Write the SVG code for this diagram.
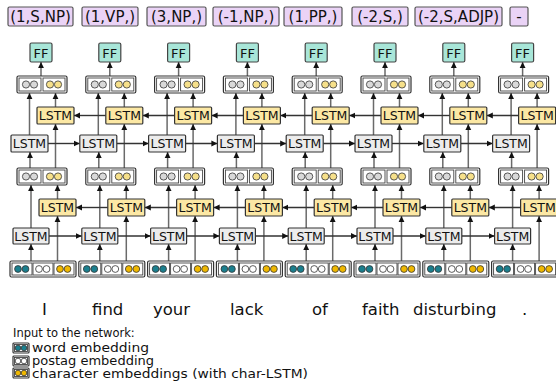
<svg xmlns="http://www.w3.org/2000/svg" xmlns:xlink="http://www.w3.org/1999/xlink" width="556" height="383" viewBox="0 0 556 383">
<style>
text{font-family:"DejaVu Sans","Liberation Sans",sans-serif;fill:#111}
.lab{fill:#ead3f6;stroke:#555;stroke-width:1.2}
.tlab{font-size:15px;text-anchor:middle}
.ff{fill:#a8e6d8;stroke:#444;stroke-width:1.2}
.tff{font-size:13px;text-anchor:middle}
.ly{fill:#fce8a4;stroke:#333;stroke-width:1.2}
.lg{fill:#ececec;stroke:#333;stroke-width:1.2}
.tl{font-size:12.5px;text-anchor:middle}
.v{stroke:#6a6a6a;stroke-width:1.5;fill:none;marker-end:url(#ah)}
.h{stroke:#333;stroke-width:1.4;fill:none;marker-end:url(#ah)}
.ob{fill:#fff;stroke:#333;stroke-width:1.2}
.sb{fill:none;stroke:#444;stroke-width:0.9}
.c{stroke:#333;stroke-width:0.8}
.word{font-size:16.5px}
.leg{font-size:11.5px}
</style>
<defs>
<marker id="ah" markerUnits="userSpaceOnUse" markerWidth="7" markerHeight="7" refX="6" refY="3.5" orient="auto">
<path d="M0,0.6 L6,3.5 L0,6.4 z" fill="#111"/>
</marker>
<g id="inp">
<rect class="ob" x="0" y="0" width="66" height="16" rx="1.5"/>
<rect class="sb" x="2" y="2" width="20" height="12"/>
<rect class="sb" x="23" y="2" width="20" height="12"/>
<rect class="sb" x="44" y="2" width="20" height="12"/>
<circle class="c" cx="8" cy="8" r="3.4" fill="#1a7f8e"/>
<circle class="c" cx="15.5" cy="8" r="3.4" fill="#1a7f8e"/>
<circle class="c" cx="29" cy="8" r="3.4" fill="#fff"/>
<circle class="c" cx="36.5" cy="8" r="3.4" fill="#fff"/>
<circle class="c" cx="50" cy="8" r="3.4" fill="#f0b800"/>
<circle class="c" cx="57.5" cy="8" r="3.4" fill="#f0b800"/>
</g>
<g id="cat">
<rect class="ob" x="0" y="0" width="50" height="17" rx="1.5"/>
<rect class="sb" x="2" y="2" width="22" height="13"/>
<rect class="sb" x="26" y="2" width="22" height="13"/>
<circle class="c" cx="9" cy="8.5" r="3.6" fill="#d9d9d9"/>
<circle class="c" cx="17" cy="8.5" r="3.6" fill="#d9d9d9"/>
<circle class="c" cx="33" cy="8.5" r="3.6" fill="#f6e08a"/>
<circle class="c" cx="41" cy="8.5" r="3.6" fill="#f6e08a"/>
</g>
<g id="vcon">
<line class="v" x1="41" y1="76" x2="41" y2="62"/>
<line class="v" x1="29.5" y1="135" x2="29.5" y2="93"/>
<line class="v" x1="55.5" y1="107" x2="55.5" y2="93"/>
<line class="v" x1="30" y1="168" x2="30" y2="152"/>
<line class="v" x1="55.5" y1="168" x2="55.5" y2="124"/>
<line class="v" x1="31" y1="228" x2="31" y2="185"/>
<line class="v" x1="57.5" y1="199" x2="57.5" y2="185"/>
<line class="v" x1="31" y1="261" x2="31" y2="244"/>
<line class="v" x1="57.5" y1="261" x2="57.5" y2="216"/>
</g>
<g id="hcon">
<line class="h" x1="105.8" y1="115.5" x2="74" y2="115.5"/>
<line class="h" x1="48" y1="143.5" x2="79.8" y2="143.5"/>
<line class="h" x1="107.8" y1="207.5" x2="76" y2="207.5"/>
<line class="h" x1="49" y1="236" x2="81.8" y2="236"/>
</g>
<g id="legi">
<rect class="ob" x="0" y="0" width="16" height="10" rx="1"/>
<rect class="sb" x="1.5" y="1.5" width="13" height="7"/>
</g>
</defs>

<g id="connectors">
<use href="#vcon" x="0"/>
<use href="#vcon" x="68.8"/>
<use href="#vcon" x="137.6"/>
<use href="#vcon" x="206.4"/>
<use href="#vcon" x="275.2"/>
<use href="#vcon" x="344"/>
<use href="#vcon" x="412.8"/>
<use href="#vcon" x="481.6"/>
<use href="#hcon" x="0"/>
<use href="#hcon" x="68.8"/>
<use href="#hcon" x="137.6"/>
<use href="#hcon" x="206.4"/>
<use href="#hcon" x="275.2"/>
<use href="#hcon" x="344"/>
<use href="#hcon" x="412.8"/>
</g>

<g id="labels">
<g id="lab1"><rect class="lab" x="8" y="7" width="65" height="19" rx="1.5"/><text class="tlab" x="40.5" y="21.5">(1,S,NP)</text></g>
<g id="lab2"><rect class="lab" x="82" y="7" width="56" height="19" rx="1.5"/><text class="tlab" x="110" y="21.5">(1,VP,)</text></g>
<g id="lab3"><rect class="lab" x="147" y="7" width="59" height="19" rx="1.5"/><text class="tlab" x="176.5" y="21.5">(3,NP,)</text></g>
<g id="lab4"><rect class="lab" x="213" y="7" width="66" height="19" rx="1.5"/><text class="tlab" x="246" y="21.5">(-1,NP,)</text></g>
<g id="lab5"><rect class="lab" x="284" y="7" width="58" height="19" rx="1.5"/><text class="tlab" x="313" y="21.5">(1,PP,)</text></g>
<g id="lab6"><rect class="lab" x="352" y="7" width="56" height="19" rx="1.5"/><text class="tlab" x="380" y="21.5">(-2,S,)</text></g>
<g id="lab7"><rect class="lab" x="415" y="7" width="87" height="19" rx="1.5"/><text class="tlab" x="458.5" y="21.5">(-2,S,ADJP)</text></g>
<g id="lab8"><rect class="lab" x="510" y="7" width="18" height="19" rx="1.5"/><text class="tlab" x="519" y="21.5">-</text></g>
</g>

<g id="col1" transform="translate(0,0)">
<g id="ff1"><rect class="ff" x="30" y="43" width="22" height="19" rx="1.5"/><text class="tff" x="41" y="57.5">FF</text></g>
<g id="topcat1"><use href="#cat" x="17" y="76"/></g>
<g id="bwd2-1"><rect class="ly" x="37" y="107" width="37" height="17" rx="1"/><text class="tl" x="55.5" y="120">LSTM</text></g>
<g id="fwd2-1"><rect class="lg" x="11" y="135" width="37" height="17" rx="1"/><text class="tl" x="29.5" y="148">LSTM</text></g>
<g id="midcat1"><use href="#cat" x="17" y="168"/></g>
<g id="bwd1-1"><rect class="ly" x="39" y="199" width="37" height="17" rx="1"/><text class="tl" x="57.5" y="212">LSTM</text></g>
<g id="fwd1-1"><rect class="lg" x="13" y="228" width="36" height="16" rx="1"/><text class="tl" x="31" y="240.5">LSTM</text></g>
<g id="in1"><use href="#inp" x="10" y="261"/></g>
</g>
<g id="col2" transform="translate(68.8,0)">
<g id="ff2"><rect class="ff" x="30" y="43" width="22" height="19" rx="1.5"/><text class="tff" x="41" y="57.5">FF</text></g>
<g id="topcat2"><use href="#cat" x="17" y="76"/></g>
<g id="bwd2-2"><rect class="ly" x="37" y="107" width="37" height="17" rx="1"/><text class="tl" x="55.5" y="120">LSTM</text></g>
<g id="fwd2-2"><rect class="lg" x="11" y="135" width="37" height="17" rx="1"/><text class="tl" x="29.5" y="148">LSTM</text></g>
<g id="midcat2"><use href="#cat" x="17" y="168"/></g>
<g id="bwd1-2"><rect class="ly" x="39" y="199" width="37" height="17" rx="1"/><text class="tl" x="57.5" y="212">LSTM</text></g>
<g id="fwd1-2"><rect class="lg" x="13" y="228" width="36" height="16" rx="1"/><text class="tl" x="31" y="240.5">LSTM</text></g>
<g id="in2"><use href="#inp" x="10" y="261"/></g>
</g>
<g id="col3" transform="translate(137.6,0)">
<g id="ff3"><rect class="ff" x="30" y="43" width="22" height="19" rx="1.5"/><text class="tff" x="41" y="57.5">FF</text></g>
<g id="topcat3"><use href="#cat" x="17" y="76"/></g>
<g id="bwd2-3"><rect class="ly" x="37" y="107" width="37" height="17" rx="1"/><text class="tl" x="55.5" y="120">LSTM</text></g>
<g id="fwd2-3"><rect class="lg" x="11" y="135" width="37" height="17" rx="1"/><text class="tl" x="29.5" y="148">LSTM</text></g>
<g id="midcat3"><use href="#cat" x="17" y="168"/></g>
<g id="bwd1-3"><rect class="ly" x="39" y="199" width="37" height="17" rx="1"/><text class="tl" x="57.5" y="212">LSTM</text></g>
<g id="fwd1-3"><rect class="lg" x="13" y="228" width="36" height="16" rx="1"/><text class="tl" x="31" y="240.5">LSTM</text></g>
<g id="in3"><use href="#inp" x="10" y="261"/></g>
</g>
<g id="col4" transform="translate(206.4,0)">
<g id="ff4"><rect class="ff" x="30" y="43" width="22" height="19" rx="1.5"/><text class="tff" x="41" y="57.5">FF</text></g>
<g id="topcat4"><use href="#cat" x="17" y="76"/></g>
<g id="bwd2-4"><rect class="ly" x="37" y="107" width="37" height="17" rx="1"/><text class="tl" x="55.5" y="120">LSTM</text></g>
<g id="fwd2-4"><rect class="lg" x="11" y="135" width="37" height="17" rx="1"/><text class="tl" x="29.5" y="148">LSTM</text></g>
<g id="midcat4"><use href="#cat" x="17" y="168"/></g>
<g id="bwd1-4"><rect class="ly" x="39" y="199" width="37" height="17" rx="1"/><text class="tl" x="57.5" y="212">LSTM</text></g>
<g id="fwd1-4"><rect class="lg" x="13" y="228" width="36" height="16" rx="1"/><text class="tl" x="31" y="240.5">LSTM</text></g>
<g id="in4"><use href="#inp" x="10" y="261"/></g>
</g>
<g id="col5" transform="translate(275.2,0)">
<g id="ff5"><rect class="ff" x="30" y="43" width="22" height="19" rx="1.5"/><text class="tff" x="41" y="57.5">FF</text></g>
<g id="topcat5"><use href="#cat" x="17" y="76"/></g>
<g id="bwd2-5"><rect class="ly" x="37" y="107" width="37" height="17" rx="1"/><text class="tl" x="55.5" y="120">LSTM</text></g>
<g id="fwd2-5"><rect class="lg" x="11" y="135" width="37" height="17" rx="1"/><text class="tl" x="29.5" y="148">LSTM</text></g>
<g id="midcat5"><use href="#cat" x="17" y="168"/></g>
<g id="bwd1-5"><rect class="ly" x="39" y="199" width="37" height="17" rx="1"/><text class="tl" x="57.5" y="212">LSTM</text></g>
<g id="fwd1-5"><rect class="lg" x="13" y="228" width="36" height="16" rx="1"/><text class="tl" x="31" y="240.5">LSTM</text></g>
<g id="in5"><use href="#inp" x="10" y="261"/></g>
</g>
<g id="col6" transform="translate(344,0)">
<g id="ff6"><rect class="ff" x="30" y="43" width="22" height="19" rx="1.5"/><text class="tff" x="41" y="57.5">FF</text></g>
<g id="topcat6"><use href="#cat" x="17" y="76"/></g>
<g id="bwd2-6"><rect class="ly" x="37" y="107" width="37" height="17" rx="1"/><text class="tl" x="55.5" y="120">LSTM</text></g>
<g id="fwd2-6"><rect class="lg" x="11" y="135" width="37" height="17" rx="1"/><text class="tl" x="29.5" y="148">LSTM</text></g>
<g id="midcat6"><use href="#cat" x="17" y="168"/></g>
<g id="bwd1-6"><rect class="ly" x="39" y="199" width="37" height="17" rx="1"/><text class="tl" x="57.5" y="212">LSTM</text></g>
<g id="fwd1-6"><rect class="lg" x="13" y="228" width="36" height="16" rx="1"/><text class="tl" x="31" y="240.5">LSTM</text></g>
<g id="in6"><use href="#inp" x="10" y="261"/></g>
</g>
<g id="col7" transform="translate(412.8,0)">
<g id="ff7"><rect class="ff" x="30" y="43" width="22" height="19" rx="1.5"/><text class="tff" x="41" y="57.5">FF</text></g>
<g id="topcat7"><use href="#cat" x="17" y="76"/></g>
<g id="bwd2-7"><rect class="ly" x="37" y="107" width="37" height="17" rx="1"/><text class="tl" x="55.5" y="120">LSTM</text></g>
<g id="fwd2-7"><rect class="lg" x="11" y="135" width="37" height="17" rx="1"/><text class="tl" x="29.5" y="148">LSTM</text></g>
<g id="midcat7"><use href="#cat" x="17" y="168"/></g>
<g id="bwd1-7"><rect class="ly" x="39" y="199" width="37" height="17" rx="1"/><text class="tl" x="57.5" y="212">LSTM</text></g>
<g id="fwd1-7"><rect class="lg" x="13" y="228" width="36" height="16" rx="1"/><text class="tl" x="31" y="240.5">LSTM</text></g>
<g id="in7"><use href="#inp" x="10" y="261"/></g>
</g>
<g id="col8" transform="translate(481.6,0)">
<g id="ff8"><rect class="ff" x="30" y="43" width="22" height="19" rx="1.5"/><text class="tff" x="41" y="57.5">FF</text></g>
<g id="topcat8"><use href="#cat" x="17" y="76"/></g>
<g id="bwd2-8"><rect class="ly" x="37" y="107" width="37" height="17" rx="1"/><text class="tl" x="55.5" y="120">LSTM</text></g>
<g id="fwd2-8"><rect class="lg" x="11" y="135" width="37" height="17" rx="1"/><text class="tl" x="29.5" y="148">LSTM</text></g>
<g id="midcat8"><use href="#cat" x="17" y="168"/></g>
<g id="bwd1-8"><rect class="ly" x="39" y="199" width="37" height="17" rx="1"/><text class="tl" x="57.5" y="212">LSTM</text></g>
<g id="fwd1-8"><rect class="lg" x="13" y="228" width="36" height="16" rx="1"/><text class="tl" x="31" y="240.5">LSTM</text></g>
<g id="in8"><use href="#inp" x="10" y="261"/></g>
</g>

<g id="words">
<text class="word" x="42" y="315">I</text>
<text class="word" x="92" y="315">find</text>
<text class="word" x="153" y="315">your</text>
<text class="word" x="230" y="315">lack</text>
<text class="word" x="312" y="315">of</text>
<text class="word" x="362" y="315">faith</text>
<text class="word" x="413" y="315">disturbing</text>
<text class="word" x="522" y="315">.</text>
</g>

<g id="legend">
<text class="leg" x="13" y="337">Input to the network:</text>
<g id="leg-word"><use href="#legi" x="13" y="343"/><circle class="c" cx="18" cy="348" r="2.8" fill="#1a7f8e"/><circle class="c" cx="24" cy="348" r="2.8" fill="#1a7f8e"/><text class="leg" x="32" y="352" textLength="117" lengthAdjust="spacingAndGlyphs">word embedding</text></g>
<g id="leg-pos"><use href="#legi" x="13" y="356"/><circle class="c" cx="18" cy="361" r="2.8" fill="#fff"/><circle class="c" cx="24" cy="361" r="2.8" fill="#fff"/><text class="leg" x="32" y="365" textLength="122" lengthAdjust="spacingAndGlyphs">postag embedding</text></g>
<g id="leg-char"><use href="#legi" x="13" y="368"/><circle class="c" cx="18" cy="373" r="2.8" fill="#f0b800"/><circle class="c" cx="24" cy="373" r="2.8" fill="#f0b800"/><text class="leg" x="32" y="377.5" textLength="276" lengthAdjust="spacingAndGlyphs">character embeddings (with char-LSTM)</text></g>
</g>
</svg>
